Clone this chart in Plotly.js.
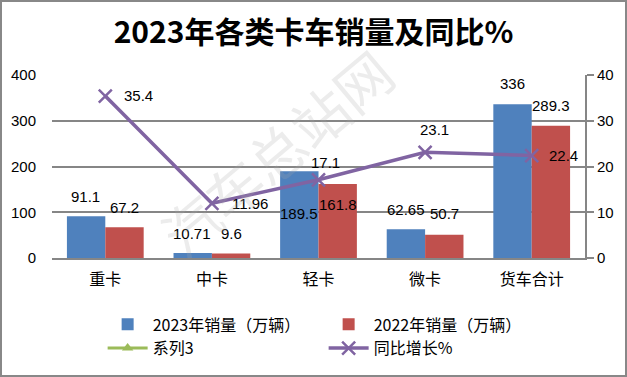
<!DOCTYPE html>
<html><head><meta charset="utf-8">
<script src="https://cdn.plot.ly/plotly-3.0.1.min.js"></script>
<style>
html,body{margin:0;padding:0;background:#fff;}
#wrap{position:relative;width:627px;height:377px;}
#chart{width:627px;height:377px;}
#border{position:absolute;left:0;top:0;width:623px;height:373px;border:2px solid #888;pointer-events:none;}
</style></head>
<body><div id="wrap"><div id="chart"></div><div id="border"></div></div>
<script>
const categories = ['重卡','中卡','轻卡','微卡','货车合计'];
const sales2023 = [91.1, 10.71, 189.5, 62.65, 336];
const sales2022 = [67.2, 9.6, 161.8, 50.7, 289.3];
const yoy = [35.4, 11.96, 17.1, 23.1, 22.4];
const series3 = [null, null, null, null, null];
const labels2023 = ['91.1','10.71','189.5','62.65','336'];
const labels2022 = ['67.2','9.6','161.8','50.7','289.3'];
const yoyLabels = ['35.4','11.96','17.1','23.1','22.4'];

const fontCJK = '"Noto Sans CJK SC", "Noto Sans", sans-serif';
const fontNum = '"Liberation Sans", "Noto Sans CJK SC", sans-serif';

// label offsets (styles)
const shift2023 = [20, 20, -42, 20, 21];
const shift2022 = [20, 20, -21, 21, 20];
const yoyDx = [33, 38, 7, 9, 32];
const yoyDy = [1, 0, 17, 23, 0];

const traces = [
  {type:'bar', name:'2023年销量（万辆）', x:categories, y:sales2023, marker:{color:'#4F81BD'}, hoverinfo:'none'},
  {type:'bar', name:'2022年销量（万辆）', x:categories, y:sales2022, marker:{color:'#C0504D'}, hoverinfo:'none'},
  {type:'scatter', mode:'lines+markers', name:'系列3', x:categories, y:series3, yaxis:'y2',
   line:{color:'#9BBB59', width:3}, marker:{symbol:'triangle-up', size:10, color:'#9BBB59'}},
  {type:'scatter', mode:'lines+markers', name:'同比增长%', x:categories, y:yoy, yaxis:'y2',
   line:{color:'#8064A2', width:3.5}, marker:{symbol:'x-thin', size:13, line:{color:'#8064A2', width:2.5}, color:'#8064A2'}, cliponaxis:false}
];

const annotations = [];
categories.forEach((c,i)=>{
  annotations.push({x:c, y:sales2023[i], xref:'x', yref:'y', text:labels2023[i], showarrow:false,
    xshift:-19.5, yshift:shift2023[i], yanchor:'middle', font:{family:fontNum, size:15, color:'#000'}});
  annotations.push({x:c, y:sales2022[i], xref:'x', yref:'y', text:labels2022[i], showarrow:false,
    xshift:19.5, yshift:shift2022[i], yanchor:'middle', font:{family:fontNum, size:15, color:'#000'}});
  annotations.push({x:c, y:yoy[i], xref:'x', yref:'y2', text:yoyLabels[i], showarrow:false,
    xshift:yoyDx[i], yshift:yoyDy[i], xanchor:'center', yanchor:'middle', font:{family:fontNum, size:15, color:'#000'}});
});
annotations.push({xref:'paper', yref:'paper', x:0.42, y:0.58, text:'汽车总站网', showarrow:false,
  textangle:-40, font:{family:fontCJK, size:56, color:'rgba(170,170,170,0.22)'}});

const layout = {
  width:627, height:377,
  margin:{l:52, r:42, t:75, b:117},
  paper_bgcolor:'#fff', plot_bgcolor:'#fff',
  title:{text:'<b>2023年各类卡车销量及同比%</b>', font:{family:fontCJK, size:30, color:'#000'}, x:0.5, xanchor:'center', y:0.915, yanchor:'middle'},
  barmode:'group', bargap:0.28, bargroupgap:0,
  showlegend:true,
  legend:{orientation:'h', x:0.095, xanchor:'left', y:-0.27, yanchor:'top', entrywidth:166, entrywidthmode:'pixels',
    font:{family:fontCJK, size:16, color:'#000'}, traceorder:'normal', itemwidth:40},
  xaxis:{type:'category', showline:true, linecolor:'#868686', linewidth:2, ticks:'outside', ticklen:6, tickcolor:'rgba(0,0,0,0)',
    tickfont:{family:fontCJK, size:16, color:'#000'}, showgrid:false, fixedrange:true},
  yaxis:{range:[0,400], dtick:100, showgrid:true, gridcolor:'#868686', gridwidth:2, zeroline:false, showline:false,
    ticks:'outside', ticklen:12, tickcolor:'rgba(0,0,0,0)', tickfont:{family:fontNum, size:15, color:'#000'}},
  yaxis2:{range:[0,40], dtick:10, overlaying:'y', side:'right', showgrid:false, zeroline:false, showline:true,
    linecolor:'#868686', linewidth:2, ticks:'outside', ticklen:7, tickcolor:'#868686', tickwidth:2,
    tickfont:{family:fontNum, size:15, color:'#000'}},
  annotations:annotations
};
Plotly.newPlot('chart', traces, layout, {displayModeBar:false, staticPlot:true});
</script></body></html>
